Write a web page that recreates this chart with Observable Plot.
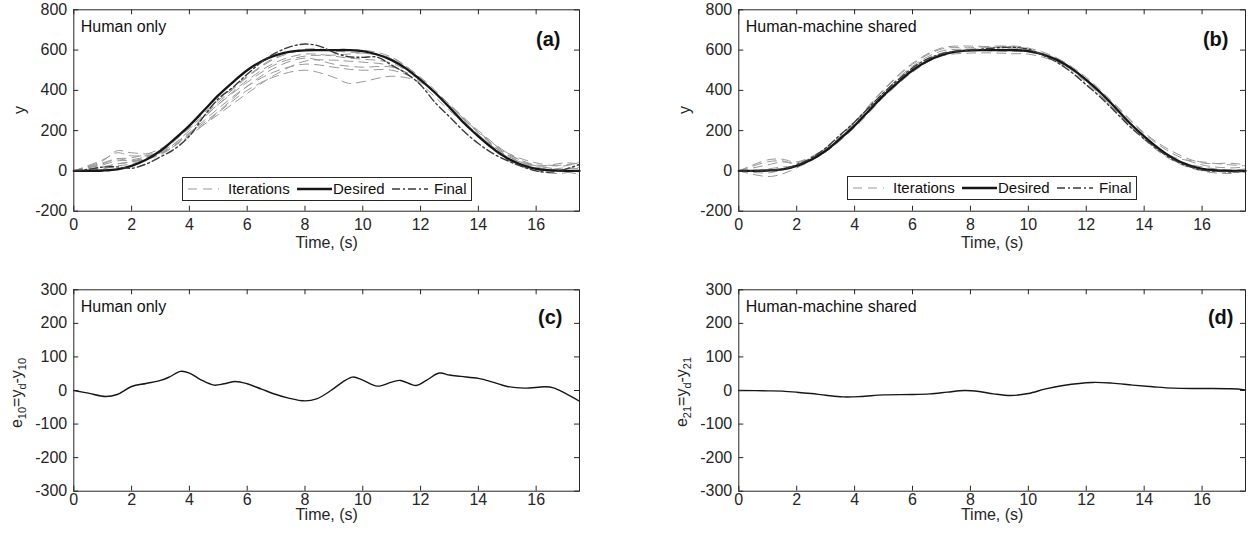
<!DOCTYPE html>
<html><head><meta charset="utf-8">
<script src="https://cdn.jsdelivr.net/npm/d3@7"></script>
<script src="https://cdn.jsdelivr.net/npm/@observablehq/plot@0.6"></script>
<style>
body{margin:0;background:#fff;}
#wrap{position:relative;width:1252px;height:537px;overflow:hidden;font-family:"Liberation Sans",Arial,Helvetica,sans-serif;background:#fff;}
#wrap svg{position:absolute;overflow:visible;}
</style></head><body><div id="wrap"></div>
<script>
// ---------- data ----------
const tHalf = [0,0.5,1,1.5,2,2.5,3,3.5,4,4.5,5,5.5,6,6.5,7,7.5,8,8.5,9,9.5,10,10.5,11,11.5,12,12.5,13,13.5,14,14.5,15,15.5,16,16.5,17,17.5];
const desired = [0,0,2,8,25,55,100,160,225,300,375,440,500,545,575,592,599,600,600,600,595,578,550,508,452,388,315,238,172,112,63,30,10,3,0,0];
const finalA = [0,8,19,20,13,34,70,110,173,271,358,414,480,541,587,617,630,620,588,567,564,565,525,484,427,340,269,197,136,87,51,23,0,-6,8,32];
const finalB = [0,0,3,10,30,64,114,179,243,316,388,452,512,555,581,594,600,606,612,614,604,575,538,489,428,365,294,221,160,103,56,24,4,-2,-5,-2];

const iterT = [0,1,1.5,2,3,4,5,6,7,8,9,9.5,10,11,12,13,14,15,16,17,17.5];
const iterA1 = [0,50,100,90,90,175,290,400,470,500,465,435,443,470,440,320,190,85,30,30,40];
const iterA2 = [0,30,50,55,95,190,310,420,495,530,515,505,500,500,445,330,200,90,25,40,35];
const iterA3 = [0,20,35,45,85,180,280,385,480,545,550,545,540,520,430,300,175,80,15,10,20];
const iterA4 = [0,55,90,75,90,200,330,450,540,580,570,560,555,535,450,320,180,70,5,15,10];
const iterA5 = [0,10,25,35,95,215,340,465,560,600,595,590,585,560,465,330,190,75,20,-5,-15];
const iterA6 = [0,40,60,50,100,225,350,470,565,605,600,600,600,565,460,320,170,55,0,-10,20];
const iterA7 = [0,15,35,45,80,185,295,420,515,560,530,520,515,515,450,325,195,90,40,25,45];
const iterA8 = [0,35,60,65,110,210,330,440,530,570,575,580,585,555,455,315,180,70,25,5,-5];

const iterB1 = [0,45,50,35,110,245,405,535,610,620,612,610,600,555,445,300,160,60,20,5,10];
const iterB2 = [0,-28,-15,15,95,220,370,495,570,585,585,582,580,540,455,325,185,85,30,15,20];
const iterB3 = [0,30,45,40,105,235,390,520,595,605,618,620,610,560,450,310,170,70,45,30,25];
const iterB4 = [0,10,20,25,100,228,380,510,585,598,595,593,590,545,445,305,165,60,8,-5,-8];
const iterB5 = [0,55,58,45,112,240,400,530,605,612,620,615,605,548,440,300,155,50,0,-12,5];
const iterB6 = [0,-10,5,20,95,215,365,490,575,595,600,603,598,558,465,330,190,95,40,38,30];

const errTimeA = [0,0.5,1.1,1.5,2,2.5,3,3.3,3.7,4,4.4,4.85,5.2,5.6,6,6.5,7,7.4,8,8.4,8.9,9.3,9.65,10,10.5,11,11.3,11.85,12.2,12.65,13,13.4,14,14.5,15,15.6,16.3,16.6,17,17.5];
const errA = [0,-8,-18,-12,12,21,30,40,57,52,32,16,20,27,20,4,-12,-22,-31,-25,0,25,40,31,13,25,30,15,30,52,46,42,36,25,12,7,11,8,-8,-32];
const errTimeB = [0,1,1.5,2,2.5,3,3.6,4.2,5,6,6.6,7.2,7.8,8.3,8.8,9.4,10,10.6,11.2,12.2,12.9,13.6,14.3,15,16,17,17.5];
const errB = [0,-1,-2,-5,-9,-14,-19,-18,-13,-12,-10,-5,0,-3,-10,-15,-9,5,15,24,22,16,11,7,6,5,2];

const xTicks = [0,2,4,6,8,10,12,14,16];
const yTicksTraj = [-200,0,200,400,600,800];
const yTicksErr = [-300,-200,-100,0,100,200,300];
const xLabel = "Time, (s)";
const panelTitles = ["Human only","Human-machine shared","Human only","Human-machine shared"];
const panelTags = ["(a)","(b)","(c)","(d)"];
const legendLabels = ["Iterations","Desired","Final"];

// ---------- helpers ----------
const FONT = '"Liberation Sans", Arial, Helvetica, sans-serif';
const AX = "#262626";
const rows = (t, v, id) => t.map((ti, i) => ({t: ti, v: v[i], id}));
const multi = (t, list) => list.flatMap((v, k) => rows(t, v, k));

function trajMarks(iters, fin) {
  return [
    Plot.line(multi(iterT, iters), {x: "t", y: "v", z: "id", stroke: "#979797", strokeWidth: 1, strokeDasharray: "9,6", curve: "catmull-rom"}),
    Plot.line(rows(tHalf, desired, "d"), {x: "t", y: "v", stroke: "#161616", strokeWidth: 2.3, curve: "catmull-rom"}),
    Plot.line(rows(tHalf, fin, "f"), {x: "t", y: "v", stroke: "#3a3a3a", strokeWidth: 1.4, strokeDasharray: "8,3,2,3", curve: "catmull-rom"})
  ];
}
function errMarks(t, e) {
  return [Plot.line(rows(t, e, "e"), {x: "t", y: "v", stroke: "#161616", strokeWidth: 1.4, curve: "catmull-rom"})];
}

function makePanel(c) {
  const pw = c.width - c.ml - c.mr, ph = c.height - c.mt - c.mb;
  const svg = Plot.plot({
    width: c.width, height: c.height,
    marginLeft: c.ml, marginRight: c.mr, marginTop: c.mt, marginBottom: c.mb,
    style: {fontFamily: FONT, fontSize: "16px", color: AX, background: "transparent"},
    x: {domain: [0, 17.5]},
    y: {domain: c.yDomain},
    marks: [
      ...c.marks,
      Plot.frame({stroke: AX, strokeWidth: 1}),
      Plot.tickX(xTicks, {x: d => d, stroke: AX, insetTop: ph - 5}),
      Plot.tickX(xTicks, {x: d => d, stroke: AX, insetBottom: ph - 5}),
      Plot.tickY(c.yTicks, {y: d => d, stroke: AX, insetLeft: pw - 5}),
      Plot.tickY(c.yTicks, {y: d => d, stroke: AX, insetRight: pw - 5}),
      Plot.axisX(xTicks, {tickSize: 0, tickPadding: c.xPad, tickFormat: d => String(d), label: null, fontSize: 16}),
      Plot.axisY(c.yTicks, {tickSize: 0, tickPadding: 6.6, tickFormat: d => String(d), label: null, fontSize: 16}),
      Plot.text([c.title], {text: d => d, frameAnchor: "top-left", dx: 7, dy: 22, lineAnchor: "bottom", textAnchor: "start", fontSize: 16, fill: "#111"}),
      Plot.text([c.tag], {text: d => d, frameAnchor: "top-right", dx: c.tagDx, dy: c.tagDy, lineAnchor: "bottom", textAnchor: "end", fontSize: 20, fontWeight: "bold", fill: "#111"}),
      Plot.text([xLabel], {text: d => d, frameAnchor: "bottom", dy: c.xlDy, lineAnchor: "bottom", fontSize: 16, fill: AX})
    ]
  });
  svg.style.left = c.left + "px";
  svg.style.top = c.top + "px";
  // y label with subscripts
  const tx = d3.select(svg).append("text")
    .attr("transform", `translate(${c.ylx},${c.yly}) rotate(-90)`)
    .attr("text-anchor", "middle").attr("font-size", 16).attr("fill", AX)
    .style("font-family", FONT);
  let inSub = false;
  c.ylabel.forEach(([s, sub]) => {
    const ts = tx.append("tspan").text(s);
    if (sub && !inSub) ts.attr("dy", 4).attr("font-size", 11);
    else if (sub) ts.attr("font-size", 11);
    else if (!sub && inSub) ts.attr("dy", -4);
    inSub = !!sub;
  });
  document.getElementById("wrap").appendChild(svg);
}

function makeLegend(left, top) {
  const s = d3.select("#wrap").append("svg")
    .style("left", left + "px").style("top", top + "px")
    .attr("width", 291).attr("height", 25)
    .style("font-family", FONT);
  s.append("rect").attr("x", 0.5).attr("y", 0.5).attr("width", 289).attr("height", 23)
    .attr("fill", "white").attr("stroke", AX).attr("stroke-width", 1);
  const cy = 12;
  s.append("line").attr("x1", 6).attr("x2", 37).attr("y1", cy).attr("y2", cy)
    .attr("stroke", "#979797").attr("stroke-width", 1).attr("stroke-dasharray", "9,6");
  s.append("line").attr("x1", 115).attr("x2", 150).attr("y1", cy).attr("y2", cy)
    .attr("stroke", "#161616").attr("stroke-width", 2.3);
  s.append("line").attr("x1", 210).attr("x2", 246).attr("y1", cy).attr("y2", cy)
    .attr("stroke", "#3a3a3a").attr("stroke-width", 1.4).attr("stroke-dasharray", "8,3,2,3");
  const xs = [46, 151, 252];
  legendLabels.forEach((l, i) => s.append("text").attr("x", xs[i]).attr("y", cy + 5.3)
    .attr("font-size", 15).attr("fill", "#111").text(l));
}

// ---------- panels ----------
makePanel({left: 0, top: 0, width: 626, height: 268, ml: 73.3, mr: 47, mt: 9.3, mb: 57.3,
  yDomain: [-200, 800], yTicks: yTicksTraj, xPad: 7.6, xlDy: 37,
  marks: trajMarks([iterA1, iterA2, iterA3, iterA4, iterA5, iterA6, iterA7, iterA8], finalA),
  title: panelTitles[0], tag: panelTags[0], tagDx: -19, tagDy: 36,
  ylx: 25, yly: 110, ylabel: [["y", 0]]});
makePanel({left: 626, top: 0, width: 626, height: 268, ml: 112.3, mr: 7, mt: 9.3, mb: 57.3,
  yDomain: [-200, 800], yTicks: yTicksTraj, xPad: 7.6, xlDy: 37,
  marks: trajMarks([iterB1, iterB2, iterB3, iterB4, iterB5, iterB6], finalB),
  title: panelTitles[1], tag: panelTags[1], tagDx: -17, tagDy: 36,
  ylx: 64, yly: 110, ylabel: [["y", 0]]});
makePanel({left: 0, top: 268, width: 626, height: 269, ml: 73.3, mr: 47, mt: 21.3, mb: 46.3,
  yDomain: [-300, 300], yTicks: yTicksErr, xPad: 2.5, xlDy: 28.5,
  marks: errMarks(errTimeA, errA),
  title: panelTitles[2], tag: panelTags[2], tagDx: -17, tagDy: 34,
  ylx: 21.7, yly: 125, ylabel: [["e", 0], ["10", 1], ["=y", 0], ["d", 1], ["-y", 0], ["10", 1]]});
makePanel({left: 626, top: 268, width: 626, height: 269, ml: 112.3, mr: 7, mt: 21.3, mb: 46.3,
  yDomain: [-300, 300], yTicks: yTicksErr, xPad: 2.5, xlDy: 28.5,
  marks: errMarks(errTimeB, errB),
  title: panelTitles[3], tag: panelTags[3], tagDx: -12, tagDy: 34,
  ylx: 61, yly: 124, ylabel: [["e", 0], ["21", 1], ["=y", 0], ["d", 1], ["-y", 0], ["21", 1]]});

makeLegend(181.5, 176.5);
makeLegend(847, 176);
</script>
</body></html>
